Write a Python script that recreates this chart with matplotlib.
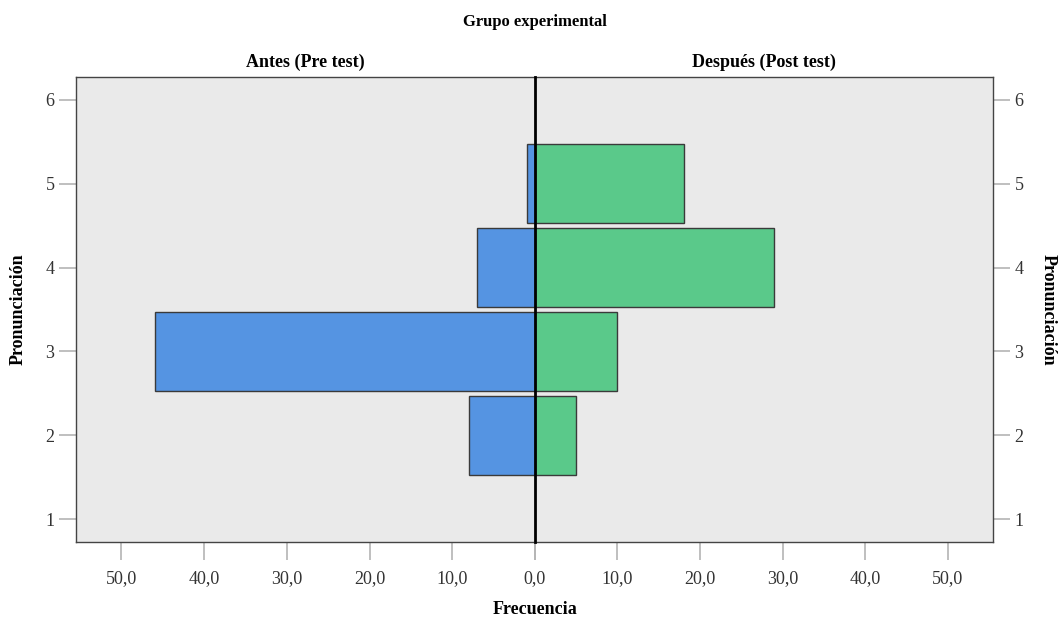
import matplotlib.pyplot as plt
import numpy as np

plt.rcParams['font.family'] = ['Liberation Serif', 'DejaVu Serif']

# datos
niveles = [1, 2, 3, 4, 5, 6]
antes = [0, 8, 46, 7, 1, 0]      # Pre test
despues = [0, 5, 10, 29, 18, 0]  # Post test
xticks = [0, 10, 20, 30, 40, 50]
xtick_labels = ['0,0', '10,0', '20,0', '30,0', '40,0', '50,0']

azul = '#5594e2'
verde = '#5ac98a'
fondo = '#eaeaea'
gris = '#b4b4b4'

fig = plt.figure(figsize=(10.61, 6.23), dpi=100)
ax1 = fig.add_axes([0.0716, 0.130, 0.4326, 0.7464])
ax2 = fig.add_axes([0.5042, 0.130, 0.4317, 0.7464])

for ax, vals, col in [(ax1, antes, azul), (ax2, despues, verde)]:
    ax.set_facecolor(fondo)
    v = np.array(vals)
    y = np.array(niveles)
    m = v > 0
    ax.barh(y[m], v[m], height=0.95, color=col, edgecolor='#3a3a3a', linewidth=1.0)
    ax.set_xlim(0, 55.5)
    ax.set_ylim(0.73, 6.27)
    ax.set_yticks(niveles)
    ax.set_xticks(xticks)
    ax.tick_params(axis='both', colors=gris, length=12, width=1.2, labelcolor='#333333', labelsize=13)
    ax.tick_params(axis='x', length=13, pad=7)
    for s in ax.spines.values():
        s.set_color('#444444')
        s.set_linewidth(1.0)

ax1.invert_xaxis()
ax1.set_xticklabels(xtick_labels)
ax1.yaxis.tick_left()
ax1.spines['right'].set_visible(False)

ax2.set_xticklabels([''] + xtick_labels[1:])
ax2.yaxis.tick_right()
ax2.spines['left'].set_visible(False)

# linea central en cero
ax2.axvline(0, color='black', linewidth=2.0, zorder=5, clip_on=False)

fig.text(0.5042, 1 - 22 / 623, 'Grupo experimental', ha='center', va='center', fontsize=12, fontweight='bold')
ax1.set_title('Antes (Pre test)', fontsize=13, fontweight='bold', pad=7)
ax2.set_title('Después (Post test)', fontsize=13, fontweight='bold', pad=7)
fig.text(0.5042, 1 - 610 / 623, 'Frecuencia', ha='center', va='center', fontsize=13, fontweight='bold')
fig.text(18 / 1061, 0.503, 'Pronunciación', rotation=90, ha='center', va='center', fontsize=13, fontweight='bold')
fig.text(1048 / 1061, 0.503, 'Pronunciación', rotation=270, ha='center', va='center', fontsize=13, fontweight='bold')

fig.savefig('out.png', dpi=100, facecolor='white')
